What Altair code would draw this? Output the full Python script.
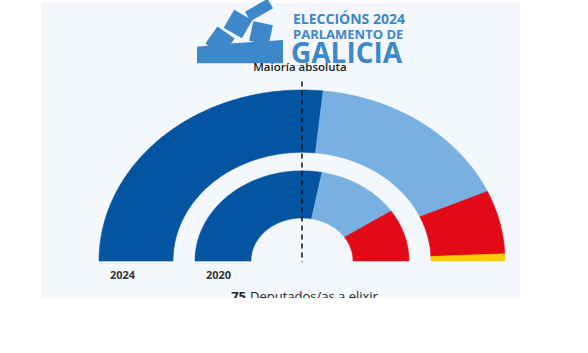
import math
import altair as alt
import pandas as pd

# ---- data ----
parties = ["PP", "BNG", "PSdeG", "DO"]
party_colors = ["#0455a1", "#78b1e1", "#e20a17", "#fdcb00"]
seats_2024 = [40, 25, 9, 1]
seats_2020 = [42, 19, 14, 0]
total_seats = 75
years = ["2024", "2020"]
ring_outer = [203, 107]   # ring radii (layout)
ring_inner = [129, 51]

# ---- geometry built from the seat counts ----
rows = []
for year, seats, ro, ri in zip(years, [seats_2024, seats_2020], ring_outer, ring_inner):
    cum = 0
    for party, s in zip(parties, seats):
        if s == 0:
            continue
        a0 = math.pi * (1 - cum / total_seats)
        a1 = math.pi * (1 - (cum + s) / total_seats)
        n = max(6, s * 4)
        pts = []
        for k in range(n + 1):
            a = a0 + (a1 - a0) * k / n
            pts.append((ro * math.cos(a), ro * math.sin(a)))
        for k in range(n + 1):
            a = a1 + (a0 - a1) * k / n
            pts.append((ri * math.cos(a), ri * math.sin(a)))
        pts.append(pts[0])
        for i, (x, y) in enumerate(pts):
            rows.append({"seg": f"{year}-{party}", "party": party, "year": year,
                         "x": x, "y": y, "order": i})
        cum += s
df = pd.DataFrame(rows)

W, H = 479, 295
ratio = 171 / 203
xdom = [-261, 218]
ydom = [-37 / ratio, 258 / ratio]
xs = alt.Scale(domain=xdom, nice=False, zero=False)
ys = alt.Scale(domain=ydom, nice=False, zero=False)
X = lambda f: alt.X(f, scale=xs, axis=None)
Y = lambda f: alt.Y(f, scale=ys, axis=None)

color_scale = alt.Scale(domain=parties, range=party_colors)

rings = alt.Chart(df).mark_line(filled=True, strokeWidth=0.6, interpolate="linear").encode(
    x=X("x:Q"), y=Y("y:Q"),
    detail="seg:N",
    order="order:Q",
    fill=alt.Fill("party:N", scale=color_scale, legend=None),
    stroke=alt.Stroke("party:N", scale=color_scale, legend=None),
)

majority = pd.DataFrame({"x": [0], "y": [213], "y2": [-1.5]})
rule = alt.Chart(majority).mark_rule(color="#111", strokeWidth=1.5, strokeDash=[5, 4]).encode(
    x=X("x:Q"), y=Y("y:Q"), y2="y2:Q"
)

maj_text = alt.Chart(pd.DataFrame({"x": [-2], "y": [(261 - 71) / ratio], "t": ["Maioría absoluta"]})).mark_text(
    font="Open Sans", fontSize=11.5, fontWeight=600, color="#222", align="center", baseline="alphabetic"
).encode(x=X("x:Q"), y=Y("y:Q"), text="t:N")

year_lab = pd.DataFrame({"x": [-ro + 11 for ro in ring_outer], "y": [-18 / ratio] * 2, "t": years})
year_text = alt.Chart(year_lab).mark_text(
    font="Open Sans", fontSize=11, fontWeight="bold", color="#333", align="left", baseline="alphabetic"
).encode(x=X("x:Q"), y=Y("y:Q"), text="t:N")

foot_y = -40 / ratio
foot1 = alt.Chart(pd.DataFrame({"x": [-56], "y": [foot_y], "t": [str(total_seats)]})).mark_text(
    font="Open Sans", fontSize=13, fontWeight="bold", color="#222", align="right", baseline="alphabetic", clip=True
).encode(x=X("x:Q"), y=Y("y:Q"), text="t:N")
foot2 = alt.Chart(pd.DataFrame({"x": [-52], "y": [foot_y], "t": ["Deputados/as a elixir"]})).mark_text(
    font="Open Sans", fontSize=13, color="#222", align="left", baseline="alphabetic", clip=True
).encode(x=X("x:Q"), y=Y("y:Q"), text="t:N")

# ---- logo (decoration) ----
logo_color = "#3d88ca"
ox, oy = 41, 3
base = pd.DataFrame({"k": [0]})
def logo_text(t, px, py, size):
    return alt.Chart(base).mark_text(
        font="Open Sans", fontSize=size, fontWeight="bold", color=logo_color,
        align="left", baseline="alphabetic", text=t
    ).encode(x=alt.value(px - ox), y=alt.value(py - oy))

l1 = logo_text("ELECCIÓNS 2024", 293, 24, 14)
l2 = logo_text("PARLAMENTO DE", 293, 39, 13)
l3 = logo_text("GALICIA", 291, 63, 28)

def piece(cx, cy, side, ang, shape="square"):
    return alt.Chart(base).mark_point(
        shape=shape, filled=True, fill=logo_color, opacity=1, strokeWidth=0,
        size=side * side, angle=ang
    ).encode(x=alt.value(cx - ox), y=alt.value(cy - oy))

icon = [
    piece(240, 46, 86, 0, "M-1,0.02L-0.3,-0.05L1,-0.14L1,0.4L-1,0.4Z"),
    piece(259, 10, 26, 330, "M-1,-0.42L1,-0.42L1,0.42L-1,0.42Z"),
    piece(238, 24, 21, 30),
    piece(261, 33, 20, 12),
    piece(220, 41, 21, 35),
]

chart = alt.layer(*icon, l1, l2, l3, rings, rule, maj_text, year_text, foot1, foot2).properties(
    width=W, height=H,
    padding={"left": 41, "top": 3, "right": 588 - 41 - W, "bottom": 353 - 3 - H},
    autosize=alt.AutoSizeParams(type="none"),
    background="white",
).configure_view(fill="#f4f7fc", strokeWidth=0)

chart.save("out.html", embed_options={"renderer": "svg", "actions": False})
